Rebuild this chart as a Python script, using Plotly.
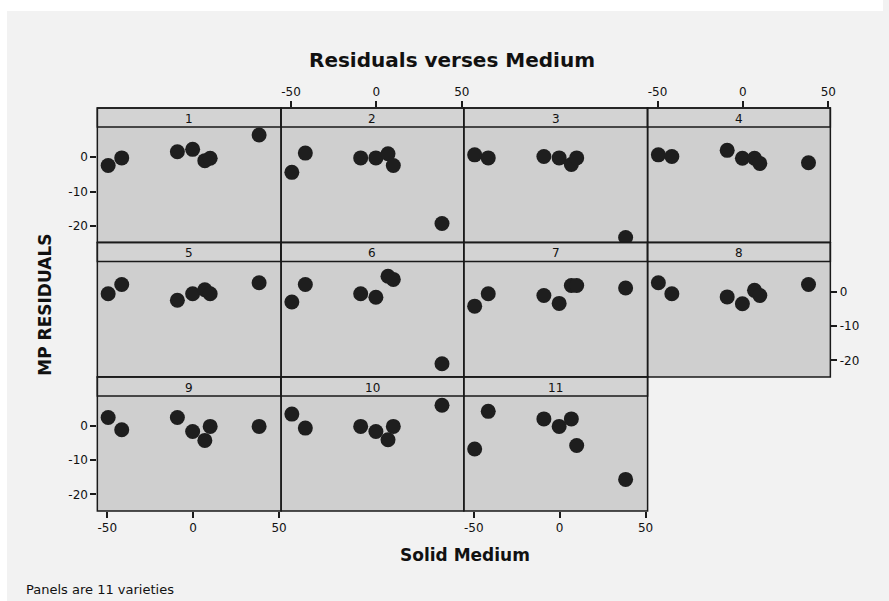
import plotly.graph_objects as go

# Centred solid-medium values shared by every variety panel
medium = [-49.5, -41.6, -9.2, -0.3, 6.8, 9.9, 38.4]

# Residuals of MP for each of the 11 varieties (same order as `medium`)
variety_labels = ["1", "2", "3", "4", "5", "6", "7", "8", "9", "10", "11"]
res_v1 = [-2.4, -0.2, 1.6, 2.3, -1.0, -0.3, 6.5]
res_v2 = [-4.4, 1.2, -0.2, -0.2, 1.0, -2.4, -19.3]
res_v3 = [0.7, -0.2, 0.2, -0.2, -2.1, -0.2, -23.4]
res_v4 = [0.7, 0.2, 2.0, -0.3, -0.3, -1.8, -1.6]
res_v5 = [-0.6, 2.1, -2.5, -0.6, 0.6, -0.6, 2.6]
res_v6 = [-3.0, 2.1, -0.6, -1.6, 4.5, 3.6, -21.0]
res_v7 = [-4.2, -0.6, -1.1, -3.4, 1.8, 1.8, 1.1]
res_v8 = [2.6, -0.6, -1.5, -3.5, 0.4, -1.1, 2.1]
res_v9 = [2.5, -1.1, 2.5, -1.6, -4.2, -0.1, -0.1]
res_v10 = [3.5, -0.6, -0.1, -1.6, -4.0, -0.1, 6.1]
res_v11 = [-6.7, 4.3, 2.1, -0.1, 2.1, -5.7, -15.6]
residuals = [res_v1, res_v2, res_v3, res_v4, res_v5, res_v6,
             res_v7, res_v8, res_v9, res_v10, res_v11]

x_ticks = [-50, 0, 50]
y_ticks = [0, -10, -20]

W, H = 889, 601
FONT = "DejaVu Sans"
INK = "#1a1a1a"

# Panel grid in pixels (each panel includes its header strip)
col_px = [(98, 283), (283, 467), (467, 652), (652, 836)]
row_px = [(108, 242.5), (242.5, 377), (377, 511)]
strip_h = 19
x_range = [-55.8, 51.2]
y_range = [-24.85, 14.35]


def fx(px):
    return px / W


def fy(py):
    return 1 - py / H


fig = go.Figure()
layout_axes = {}
shapes = [
    # thin white border at the top and left of the grey canvas
    dict(type="rect", xref="paper", yref="paper", x0=0, x1=1, y0=fy(11), y1=1,
         fillcolor="white", line=dict(width=0), layer="below"),
    dict(type="rect", xref="paper", yref="paper", x0=0, x1=fx(7), y0=0, y1=1,
         fillcolor="white", line=dict(width=0), layer="below"),
]
annotations = []

for k, (label, res) in enumerate(zip(variety_labels, residuals)):
    r, c = divmod(k, 4)
    i = k + 1
    xa = "x" if i == 1 else f"x{i}"
    ya = "y" if i == 1 else f"y{i}"
    fig.add_trace(go.Scatter(
        x=medium, y=res, mode="markers", xaxis=xa, yaxis=ya,
        marker=dict(size=15, color="#1e1e1e", line=dict(width=0)),
        showlegend=False, hoverinfo="x+y",
    ))

    x0, x1 = col_px[c]
    y0, y1 = row_px[r]
    top_ticks = r == 0 and c in (1, 3)
    bottom_ticks = r == 2 and c in (0, 2)
    show_x = top_ticks or bottom_ticks
    left_ticks = c == 0 and r in (0, 2)
    right_ticks = r == 1 and c == 3
    show_y = left_ticks or right_ticks

    common = dict(showgrid=False, zeroline=False, showline=False,
                  ticklen=6, tickwidth=1.5, tickcolor=INK,
                  tickfont=dict(family=FONT, size=12, color="#111"),
                  fixedrange=True)
    layout_axes["xaxis" if i == 1 else f"xaxis{i}"] = dict(
        domain=[fx(x0), fx(x1)], range=x_range, anchor=ya,
        tickmode="array", tickvals=x_ticks, ticktext=[str(v) for v in x_ticks],
        ticks="outside" if show_x else "", showticklabels=show_x,
        side="top" if top_ticks else "bottom", **common)
    layout_axes["yaxis" if i == 1 else f"yaxis{i}"] = dict(
        domain=[fy(y1), fy(y0)], range=y_range, anchor=xa,
        tickmode="array", tickvals=y_ticks, ticktext=[str(v) for v in y_ticks],
        ticks="outside" if show_y else "", showticklabels=show_y,
        side="right" if right_ticks else "left", **common)

    # header strip with the variety number
    shapes.append(dict(type="rect", xref="paper", yref="paper",
                       x0=fx(x0), x1=fx(x1), y0=fy(y0 + strip_h), y1=fy(y0),
                       fillcolor="#d3d3d3", line=dict(color=INK, width=1.5),
                       layer="above"))
    # panel frame
    shapes.append(dict(type="rect", xref="paper", yref="paper",
                       x0=fx(x0), x1=fx(x1), y0=fy(y1), y1=fy(y0),
                       line=dict(color=INK, width=1.5), layer="above"))
    annotations.append(dict(text=label, xref="paper", yref="paper",
                            x=fx((x0 + x1) / 2), y=fy(y0 + strip_h / 2 + 1),
                            showarrow=False, xanchor="center", yanchor="middle",
                            font=dict(family=FONT, size=12, color="#111")))

annotations += [
    dict(text="<b>Residuals verses Medium</b>", xref="paper", yref="paper",
         x=fx(455), y=fy(60), showarrow=False, xanchor="center", yanchor="middle",
         font=dict(family=FONT, size=20, color="#111")),
    dict(text="<b>Solid Medium</b>", xref="paper", yref="paper",
         x=fx(468), y=fy(555), showarrow=False, xanchor="center", yanchor="middle",
         font=dict(family=FONT, size=17, color="#111")),
    dict(text="<b>MP RESIDUALS</b>", xref="paper", yref="paper",
         x=fx(45), y=fy(305), showarrow=False, textangle=-90,
         xanchor="center", yanchor="middle",
         font=dict(family=FONT, size=17, color="#111")),
    dict(text="Panels are 11 varieties", xref="paper", yref="paper",
         x=fx(24), y=fy(589), showarrow=False, xanchor="left", yanchor="middle",
         font=dict(family=FONT, size=13, color="#111")),
]

fig.update_layout(
    width=W, height=H, margin=dict(l=0, r=0, t=0, b=0),
    paper_bgcolor="#f2f2f2", plot_bgcolor="#cfcfcf",
    shapes=shapes, annotations=annotations,
    font=dict(family=FONT, color="#111"),
    **layout_axes,
)

fig.write_html("out.html")
